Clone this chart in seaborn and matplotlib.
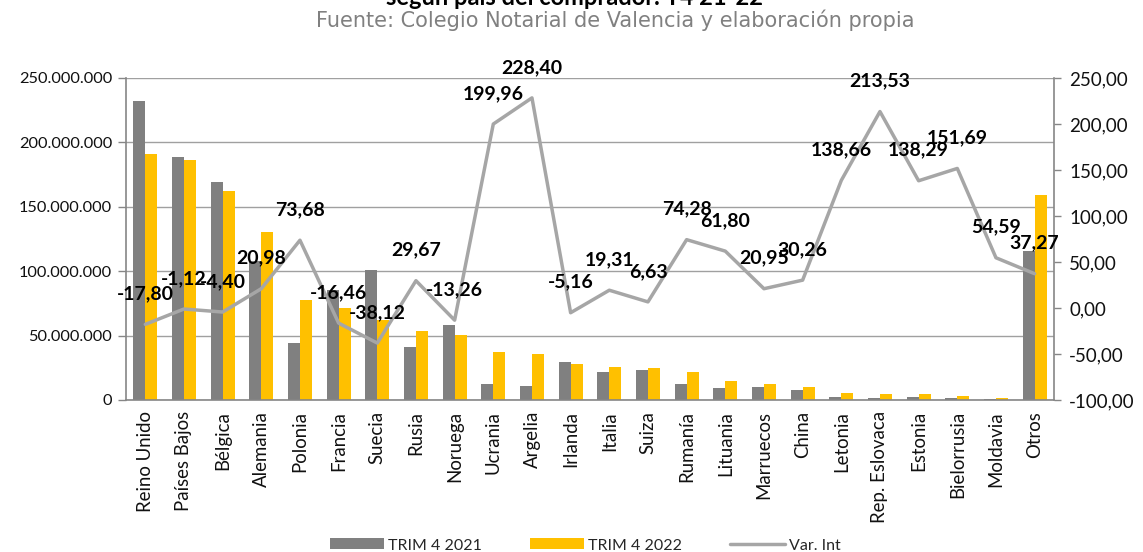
import numpy as np
import pandas as pd
import matplotlib
matplotlib.use("Agg")
import matplotlib.pyplot as plt
import matplotlib.ticker as mticker
from matplotlib.patches import Patch
from matplotlib.lines import Line2D
import seaborn as sns

paises = ["Reino Unido", "Países Bajos", "Bélgica", "Alemania", "Polonia", "Francia",
          "Suecia", "Rusia", "Noruega", "Ucrania", "Argelia", "Irlanda", "Italia", "Suiza",
          "Rumanía", "Lituania", "Marruecos", "China", "Letonia", "Rep. Eslovaca",
          "Estonia", "Bielorrusia", "Moldavia", "Otros"]
trim4_2021 = [232.0e6, 188.4e6, 169.5e6, 107.8e6, 44.5e6, 85.5e6, 100.9e6, 41.1e6, 58.2e6,
              12.4e6, 11.0e6, 29.8e6, 21.5e6, 23.6e6, 12.6e6, 9.3e6, 10.1e6, 7.6e6,
              2.3e6, 1.6e6, 2.0e6, 1.3e6, 0.8e6, 115.7e6]
trim4_2022 = [190.7e6, 186.3e6, 162.0e6, 130.4e6, 77.3e6, 71.4e6, 62.4e6, 53.3e6, 50.5e6,
              37.2e6, 35.7e6, 28.3e6, 25.6e6, 25.2e6, 21.9e6, 14.9e6, 12.2e6, 9.9e6,
              5.5e6, 5.0e6, 4.8e6, 3.3e6, 1.2e6, 158.8e6]
var_int = [-17.80, -1.12, -4.40, 20.98, 73.68, -16.46, -38.12, 29.67, -13.26, 199.96,
           228.40, -5.16, 19.31, 6.63, 74.28, 61.80, 20.95, 30.26, 138.66, 213.53,
           138.29, 151.69, 54.59, 37.27]
series = ["TRIM 4 2021", "TRIM 4 2022"]
line_name = "Var. Int"
title = "según país del comprador. T4 21-22"
subtitle = "Fuente: Colegio Notarial de Valencia y elaboración propia"

GREY = "#808080"
YELLOW = "#FFC000"
LINE = "#A6A6A6"
AXC = "#868686"

df = pd.DataFrame({
    "pais": paises * 2,
    "periodo": [series[0]] * len(paises) + [series[1]] * len(paises),
    "importe": trim4_2021 + trim4_2022,
})

sns.set_style("white")
plt.rcParams["font.family"] = ["Lato", "DejaVu Sans"]

fig = plt.figure(figsize=(11.43, 5.52), dpi=100)
ax = fig.add_axes([0.1102, 0.2754, 0.8119, 0.5833])

sns.barplot(data=df, x="pais", y="importe", hue="periodo", order=paises,
            hue_order=series, palette=[GREY, YELLOW], width=0.62, gap=0,
            saturation=1, linewidth=0, errorbar=None, legend=False, ax=ax)

ax.set_xlim(-0.5, len(paises) - 0.5)
ax.set_ylim(0, 250e6)
ax.yaxis.set_major_locator(mticker.MultipleLocator(50e6))
ax.yaxis.set_major_formatter(mticker.FuncFormatter(
    lambda v, p: f"{int(round(v)):,}".replace(",", ".")))
ax.set_xlabel("")
ax.set_ylabel("")
ax.grid(axis="y", color="#A0A0A0", linewidth=1.0)
ax.set_axisbelow(True)
ax.set_xticks(np.arange(len(paises)))
ax.set_xticklabels(paises, rotation=90, fontsize=13.4, color="#111111")
ax.set_xticks(np.arange(len(paises) + 1) - 0.5, minor=True)
ax.tick_params(axis="x", which="major", length=0, pad=8)
ax.tick_params(axis="x", which="minor", length=6, color=AXC, width=1)
ax.tick_params(axis="y", which="major", length=6, color=AXC, width=1,
               labelsize=11.8, labelcolor="#111111", left=True, pad=4)
for s in ["top", "right"]:
    ax.spines[s].set_visible(False)
for s in ["left", "bottom"]:
    ax.spines[s].set_color(AXC)
    ax.spines[s].set_linewidth(1.2)

ax2 = ax.twinx()
sns.lineplot(x=np.arange(len(paises)), y=var_int, color=LINE, linewidth=2.5,
             ax=ax2, legend=False)
ax2.set_ylim(-100, 250)
ax2.yaxis.set_major_locator(mticker.MultipleLocator(50))
ax2.yaxis.set_major_formatter(mticker.FuncFormatter(
    lambda v, p: f"{v:.2f}".replace(".", ",")))
ax2.tick_params(axis="y", length=5, color=AXC, width=1, labelsize=13.5,
                labelcolor="#111111", right=True, pad=6)
for s in ["top", "left", "bottom"]:
    ax2.spines[s].set_visible(False)
ax2.spines["right"].set_color(AXC)
ax2.spines["right"].set_linewidth(1.2)
ax2.set_ylabel("")

for i, v in enumerate(var_int):
    ax2.annotate(f"{v:.2f}".replace(".", ","), xy=(i, v), xytext=(0, 22),
                 textcoords="offset points", ha="center", va="center",
                 fontsize=14, fontweight="bold", color="black", clip_on=False)

fig.text(0.503, 0.991, title, ha="center", va="baseline", fontsize=17,
         fontweight="bold", color="black")
fig.text(0.538, 0.964, subtitle, ha="center", va="center", fontsize=15,
         color="#808080", family=["DejaVu Sans"])

handles = [Patch(facecolor=GREY, edgecolor="none"),
           Patch(facecolor=YELLOW, edgecolor="none"),
           Line2D([0], [0], color=LINE, linewidth=2.5)]
fig.legend(handles, series + [line_name], loc="center",
           bbox_to_anchor=(0.512, 0.0118), ncol=3, frameon=False, fontsize=11.5,
           handlelength=3.4, handleheight=0.67, handletextpad=0.25,
           columnspacing=3.0, borderpad=0.1)

fig.savefig("out.png", dpi=100)
